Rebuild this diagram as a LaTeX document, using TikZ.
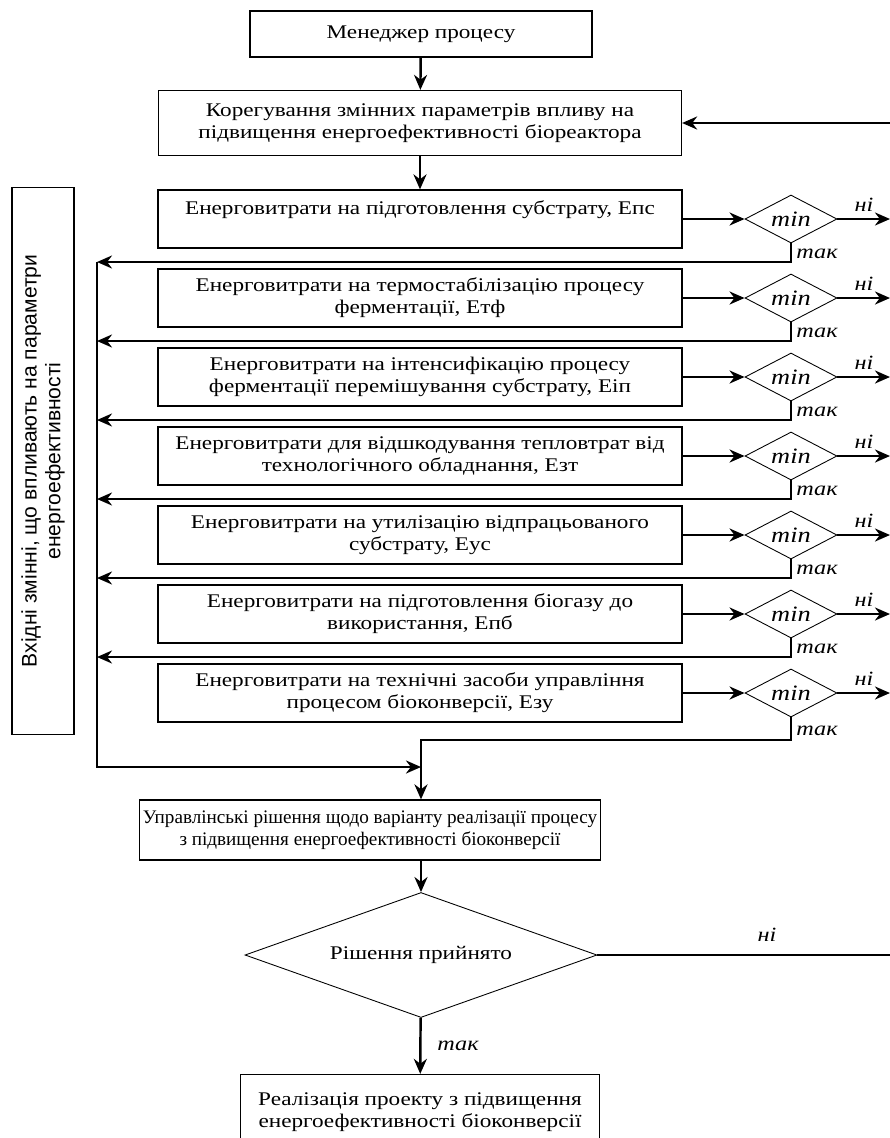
\documentclass[tikz,border=0pt]{standalone}
\usepackage{fontspec}
\setmainfont{Liberation Serif}[FakeStretch=1.2]
\newfontfamily\plainserif{Liberation Serif}
\setsansfont{Liberation Sans}
\usepackage{tikz}
\usetikzlibrary{arrows.meta,shapes.geometric}
\tikzstyle{box}=[draw, rectangle, line width=0.7pt, align=center, inner sep=2pt]
\tikzstyle{ebox}=[box, minimum width=104.8mm, minimum height=11.6mm]
\tikzstyle{cond}=[draw, diamond, line width=0.5pt, inner sep=0pt]
\tikzstyle{minbox}=[cond, aspect=1.9, minimum width=18.4mm, minimum height=9.6mm, font=\itshape\fontsize{12.5}{13}\selectfont]
\tikzstyle{lbl}=[font=\itshape\fontsize{11.5}{12.5}\selectfont, inner sep=1pt]
\tikzstyle{arrow}=[draw=black, line width=1.4pt, >={Stealth[length=3mm, width=2.6mm]}]

\begin{document}
\begin{tikzpicture}[x=0.2mm, y=-0.2mm, font=\fontsize{11}{12.5}\selectfont]
		   \useasboundingbox (0,0) rectangle (890,1138);
		   \begin{scope}
			   \node (mgr) at (421, 34)[box, minimum width=68.4mm, minimum height=9.2mm] {Менеджер процесу};
			   \node (corr) at (420, 123)[box, minimum width=104.6mm, minimum height=13mm] {Корегування змінних параметрів впливу на\\підвищення енергоефективності біореактора};

			   \node (e1) at (420, 219)[ebox] {Енерговитрати на підготовлення субстрату, Епс\\~};
			   \node (e2) at (420, 298)[ebox] {Енерговитрати на термостабілізацію процесу\\ферментації, Етф};
			   \node (e3) at (420, 377)[ebox] {Енерговитрати на інтенсифікацію процесу\\ферментації перемішування субстрату, Еіп};
			   \node (e4) at (420, 456)[ebox] {Енерговитрати для відшкодування тепловтрат від\\технологічного обладнання, Езт};
			   \node (e5) at (420, 535)[ebox] {Енерговитрати на утилізацію відпрацьованого\\субстрату, Еус};
			   \node (e6) at (420, 614)[ebox] {Енерговитрати на підготовлення біогазу до\\використання, Епб};
			   \node (e7) at (420, 693)[ebox] {Енерговитрати на технічні засоби управління\\процесом біоконверсії, Езу};

			   \node (m1) at (791, 219)[minbox] {min};
			   \node (m2) at (791, 298)[minbox] {min};
			   \node (m3) at (791, 377)[minbox] {min};
			   \node (m4) at (791, 456)[minbox] {min};
			   \node (m5) at (791, 535)[minbox] {min};
			   \node (m6) at (791, 614)[minbox] {min};
			   \node (m7) at (791, 693)[minbox] {min};

			   \node (inp) at (43, 461)[box, rotate=90, minimum width=109.4mm, minimum height=12.4mm, font=\sffamily\fontsize{12}{13.5}\selectfont] {Вхідні змінні,  що впливають на параметри\\енергоефективності};

			   \node (upr) at (370, 830)[box, minimum width=91.4mm, minimum height=12mm, font=\plainserif\fontsize{10.9}{12.5}\selectfont] {Управлінські рішення щодо варіанту реалізації процесу\\з підвищення енергоефективності біоконверсії};
			   \node (dec) at (421, 955)[cond, aspect=2.8, minimum width=70.4mm, minimum height=25mm] {Рішення прийнято};
			   \node (real) at (420, 1112)[box, minimum width=71.8mm, minimum height=15mm] {Реалізація проекту з підвищення\\енергоефективності біоконверсії};
		   \end{scope}
		   % labels
		   \begin{scope}
			   \node (n1) at (864, 205)[lbl] {ні};
			   \node (n2) at (864, 284)[lbl] {ні};
			   \node (n3) at (864, 363)[lbl] {ні};
			   \node (n4) at (864, 442)[lbl] {ні};
			   \node (n5) at (864, 521)[lbl] {ні};
			   \node (n6) at (864, 600)[lbl] {ні};
			   \node (n7) at (864, 679)[lbl] {ні};
			   \node (y1) at (817, 254)[lbl] {так};
			   \node (y2) at (817, 333)[lbl] {так};
			   \node (y3) at (817, 412)[lbl] {так};
			   \node (y4) at (817, 491)[lbl] {так};
			   \node (y5) at (817, 570)[lbl] {так};
			   \node (y6) at (817, 649)[lbl] {так};
			   \node (y7) at (817, 731)[lbl] {так};
			   \node (nd) at (767, 935)[lbl] {ні};
			   \node (yd) at (458, 1046)[lbl] {так};
		   \end{scope}
		   % free ends
		   \coordinate (rt) at (890, 123);
		   \coordinate (rb) at (890, 955);
		   \coordinate (r1) at (890, 219);
		   \coordinate (r2) at (890, 298);
		   \coordinate (r3) at (890, 377);
		   \coordinate (r4) at (890, 456);
		   \coordinate (r5) at (890, 535);
		   \coordinate (r6) at (890, 614);
		   \coordinate (r7) at (890, 693);
		   \coordinate (l1) at (97, 262);
		   \coordinate (l2) at (97, 341);
		   \coordinate (l3) at (97, 420);
		   \coordinate (l4) at (97, 499);
		   \coordinate (l5) at (97, 578);
		   \coordinate (l6) at (97, 657);
		   \coordinate (t7) at (421, 740);
		   \coordinate (join) at (421, 767);
		   \begin{scope}[arrow]
			   \path [->] (mgr) edge (corr);
			   \path [->] (corr) edge (e1);
			   \path [->] (rt) edge (corr);

			   \path [->] (e1) edge (m1);
			   \path [->] (e2) edge (m2);
			   \path [->] (e3) edge (m3);
			   \path [->] (e4) edge (m4);
			   \path [->] (e5) edge (m5);
			   \path [->] (e6) edge (m6);
			   \path [->] (e7) edge (m7);

			   \path [->] (m1) edge (r1);
			   \path [->] (m2) edge (r2);
			   \path [->] (m3) edge (r3);
			   \path [->] (m4) edge (r4);
			   \path [->] (m5) edge (r5);
			   \path [->] (m6) edge (r6);
			   \path [->] (m7) edge (r7);

			   \draw [->] (m1.south) |- (l1);
			   \draw [->] (m2.south) |- (l2);
			   \draw [->] (m3.south) |- (l3);
			   \draw [->] (m4.south) |- (l4);
			   \draw [->] (m5.south) |- (l5);
			   \draw [->] (m6.south) |- (l6);
			   \draw [->] (m7.south) |- (t7) -- (t7 |- upr.north);
			   \draw [->] (l1) |- (join);

			   \draw [->] (t7 |- upr.south) -- (dec.north);
			   \path [-] (dec) edge (rb);
			   \path [->] (dec) edge (real);
		   \end{scope}
	   \end{tikzpicture}
\end{document}
